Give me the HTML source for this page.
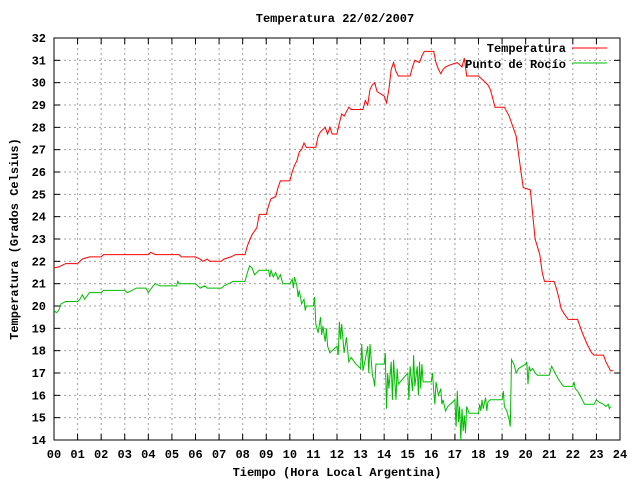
<!DOCTYPE html>
<html><head><meta charset="utf-8"><style>
body{margin:0;background:#fff}
svg text{font-family:"Liberation Mono","DejaVu Sans Mono",monospace;font-size:12px;font-weight:bold;fill:#000}
</style></head><body>
<svg id="chart" width="640" height="480" viewBox="0 0 640 480" xmlns="http://www.w3.org/2000/svg">
<rect width="640" height="480" fill="#fff"/>
<text x="335" y="22" text-anchor="middle">Temperatura 22/02/2007</text>
<g id="grid"></g><g id="axes"></g><g id="series"></g>
<text x="337" y="476" text-anchor="middle">Tiempo (Hora Local Argentina)</text>
<text transform="translate(18,239) rotate(-90)" text-anchor="middle">Temperatura (Grados Celsius)</text>
<g>
<text x="566" y="52" text-anchor="end">Temperatura</text>
<line x1="572" y1="48" x2="607" y2="48" stroke="#f00" stroke-width="1"/>
<text x="566" y="68" text-anchor="end">Punto de Rocío</text>
<line x1="572" y1="63" x2="607" y2="63" stroke="#0b0" stroke-width="1"/>
</g>
</svg>
<script>
const tempHours=[0,0.2,0.5,1.0,1.1,1.2,1.5,2.0,2.1,4.0,4.1,4.3,5.3,5.4,6.0,6.2,6.3,6.5,6.6,7.1,7.2,7.5,7.7,8.1,8.2,8.4,8.6,8.7,9.0,9.1,9.2,9.4,9.5,9.6,10.0,10.1,10.2,10.3,10.4,10.5,10.6,10.7,11.1,11.2,11.3,11.5,11.6,11.7,11.8,12.0,12.1,12.2,12.3,12.5,12.6,13.1,13.2,13.3,13.4,13.5,13.6,13.7,14.0,14.1,14.2,14.3,14.4,14.5,14.6,15.0,15.1,15.2,15.3,15.5,15.6,15.7,16.1,16.2,16.3,16.4,16.5,16.6,16.8,17.1,17.2,17.3,17.4,17.5,18.0,18.1,18.2,18.4,18.5,18.6,18.7,19.1,19.3,19.4,19.6,19.7,19.8,19.9,20.2,20.3,20.4,20.6,20.7,20.8,21.2,21.3,21.4,21.5,21.6,21.8,22.2,22.3,22.4,22.6,22.8,22.9,23.3,23.4,23.5,23.6,23.7];
const tempValues=[21.7,21.75,21.9,21.9,22.0,22.1,22.2,22.2,22.3,22.3,22.4,22.3,22.3,22.2,22.2,22.1,22.0,22.1,22.0,22.0,22.1,22.2,22.3,22.3,22.7,23.2,23.5,24.1,24.1,24.5,24.8,24.9,25.3,25.6,25.6,26.0,26.3,26.5,26.9,27.0,27.3,27.1,27.1,27.6,27.8,28.0,27.7,28.0,27.7,27.7,28.2,28.6,28.5,28.9,28.8,28.8,29.2,29.0,29.7,29.9,30.0,29.6,29.4,29.1,29.7,30.6,30.9,30.5,30.3,30.3,30.3,30.7,31.0,30.9,31.2,31.4,31.4,30.9,30.6,30.4,30.6,30.7,30.8,30.9,30.8,30.7,31.1,30.3,30.3,30.2,30.1,29.9,29.7,29.3,28.9,28.9,28.5,28.2,27.6,26.8,26.0,25.3,25.2,24.1,23.0,22.3,21.5,21.1,21.1,20.8,20.4,19.9,19.7,19.4,19.4,19.1,18.8,18.3,17.9,17.8,17.8,17.5,17.3,17.1,17.1];
const dewHours=[0,0.1,0.2,0.3,0.5,1.0,1.1,1.2,1.3,1.5,2.0,2.1,3.0,3.1,3.3,3.5,3.9,4.0,4.2,4.3,4.5,5.2,5.25,5.3,6.0,6.1,6.2,6.4,6.5,7.1,7.2,7.4,7.6,8.1,8.2,8.3,8.4,8.5,8.6,8.7,9.1,9.15,9.2,9.3,9.4,9.5,9.6,9.7,10.0,10.1,10.15,10.2,10.3,10.35,10.4,10.5,10.6,10.65,10.7,11.0,11.05,11.1,11.2,11.3,11.35,11.4,11.5,11.55,11.6,11.7,12.0,12.05,12.1,12.15,12.2,12.3,12.4,12.5,12.6,12.8,13.0,13.05,13.1,13.2,13.3,13.35,13.4,13.5,13.55,13.6,13.65,14.0,14.05,14.1,14.15,14.2,14.3,14.35,14.4,14.45,14.5,14.55,14.6,15.0,15.05,15.1,15.2,15.25,15.3,15.4,15.45,15.5,15.55,15.6,15.65,16.0,16.05,16.1,16.15,16.2,16.3,16.4,16.45,16.5,16.6,16.7,17.0,17.05,17.1,17.15,17.2,17.25,17.3,17.35,17.4,17.45,17.5,17.6,18.0,18.05,18.1,18.15,18.2,18.3,18.35,18.4,18.5,19.0,19.05,19.1,19.2,19.3,19.35,19.4,19.5,19.6,19.7,20.0,20.05,20.1,20.15,20.2,20.3,20.4,20.5,21.0,21.1,21.2,21.3,21.4,21.6,22.0,22.05,22.1,22.2,22.3,22.4,22.5,22.9,23.0,23.1,23.3,23.4,23.5,23.55,23.6];
const dewValues=[19.8,19.7,19.8,20.1,20.2,20.2,20.3,20.5,20.3,20.6,20.6,20.7,20.7,20.6,20.7,20.8,20.8,20.6,20.9,21.0,20.9,20.9,21.1,21.0,21.0,20.9,20.8,20.9,20.8,20.8,20.9,21.0,21.1,21.1,21.5,21.8,21.7,21.4,21.5,21.6,21.6,21.3,21.6,21.3,21.5,21.2,21.4,21.0,21.0,21.2,20.8,21.3,20.9,20.4,20.7,20.1,20.3,19.8,20.0,20.0,20.4,19.2,18.8,19.5,18.7,19.1,18.4,19.0,18.2,17.9,18.2,17.8,19.3,18.5,19.2,17.9,18.6,17.5,17.7,17.4,17.2,18.3,17.1,17.6,18.2,17.0,18.3,16.9,16.7,16.4,17.4,17.4,17.9,15.4,17.0,16.3,17.5,15.8,17.6,16.6,15.8,17.2,16.5,17.0,15.8,17.3,16.2,17.8,16.4,17.3,16.0,17.5,16.3,17.4,16.6,16.6,17.0,16.2,15.6,16.6,16.0,16.3,15.6,15.8,15.3,15.5,15.8,14.6,16.2,14.8,15.5,14.0,15.4,14.4,15.1,14.3,15.5,15.2,15.2,15.6,15.3,15.8,15.4,15.9,15.3,15.7,15.8,15.8,16.2,15.5,15.3,14.9,14.6,17.6,17.4,17.0,17.2,17.4,17.5,16.5,17.3,17.1,17.2,17.0,16.9,16.9,17.3,17.1,16.9,16.7,16.4,16.4,16.6,16.3,16.2,16.0,15.8,15.6,15.6,15.8,15.7,15.6,15.5,15.6,15.4,15.5];
const xTickLabels=["00","01","02","03","04","05","06","07","08","09","10","11","12","13","14","15","16","17","18","19","20","21","22","23","24"];
const yTickValues=[14,15,16,17,18,19,20,21,22,23,24,25,26,27,28,29,30,31,32];

const L=54,R=620,T=38,B=440,NS="http://www.w3.org/2000/svg";
const xs=h=>L+(R-L)*h/24, ys=v=>B-(B-T)*(v-14)/18;
function mk(tag,attrs,parent){const e=document.createElementNS(NS,tag);for(const k in attrs)e.setAttribute(k,attrs[k]);parent.appendChild(e);return e;}
const grid=document.getElementById('grid'),axes=document.getElementById('axes'),series=document.getElementById('series');
xTickLabels.forEach((lab,i)=>{const x=xs(i);
 if(i>0&&i<24){const g=mk('line',{x1:x,y1:T,x2:x,y2:B,stroke:'#a0a0a0','stroke-dasharray':'2,3'},grid);
 
 }
 mk('line',{x1:x,y1:B,x2:x,y2:B-6,stroke:'#000'},axes);mk('line',{x1:x,y1:T,x2:x,y2:T+6,stroke:'#000'},axes);
 const t=mk('text',{x:x,y:B+18,'text-anchor':'middle'},axes);t.textContent=lab;
 
 });
yTickValues.forEach(v=>{const y=ys(v);
 if(v>14&&v<32){const g=mk('line',{x1:L,y1:y,x2:R,y2:y,stroke:'#a0a0a0','stroke-dasharray':'2,3'},grid);
 
 }
 mk('line',{x1:L,y1:y,x2:L+6,y2:y,stroke:'#000'},axes);mk('line',{x1:R,y1:y,x2:R-6,y2:y,stroke:'#000'},axes);
 const t=mk('text',{x:L-8,y:y+4,'text-anchor':'end'},axes);t.textContent=v;
 
 });
const frame=mk('rect',{x:L,y:T,width:R-L,height:B-T,fill:'none',stroke:'#000'},axes);


const pt=(hs,vs)=>hs.map((h,i)=>xs(h).toFixed(1)+','+ys(vs[i]).toFixed(1)).join(' ');
const dew=mk('polyline',{points:pt(dewHours,dewValues),fill:'none',stroke:'#00bb00','stroke-width':1},series);


const tmp=mk('polyline',{points:pt(tempHours,tempValues),fill:'none',stroke:'#ff0000','stroke-width':1},series);


</script>
</body></html>
